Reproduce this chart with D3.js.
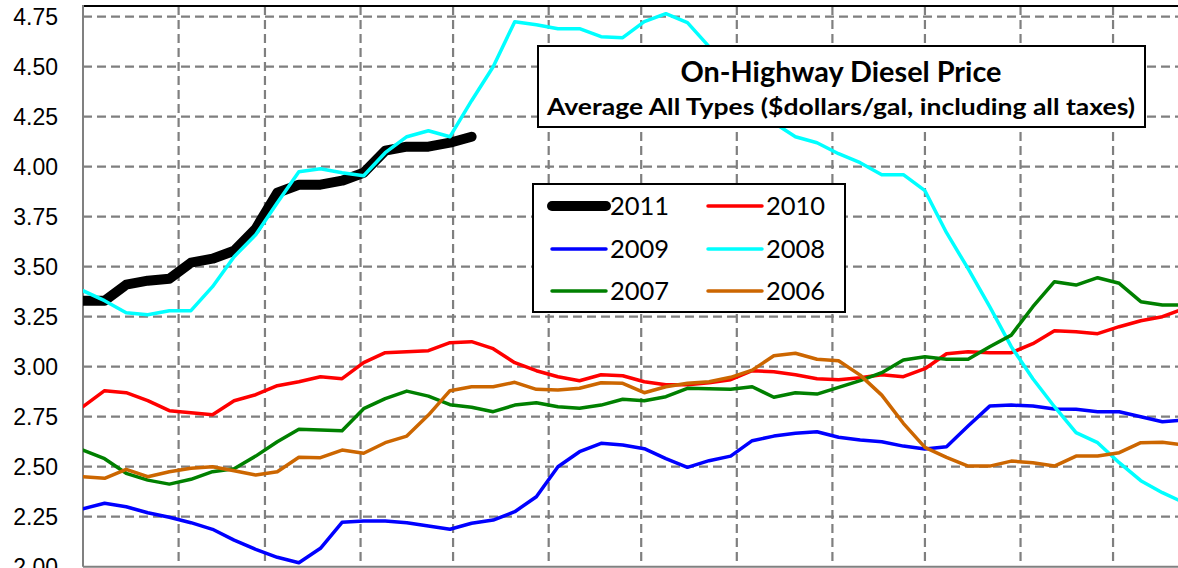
<!DOCTYPE html>
<html>
<head>
<meta charset="utf-8">
<title>On-Highway Diesel Price</title>
<script src="https://cdn.jsdelivr.net/npm/d3@7"></script>
<style>
  body { margin: 0; background: #fff; }
  svg { display: block; }
</style>
</head>
<body>
<script>
// weekly prices, $ per gallon (one value per week, from the first week of January)
var years = ["2011", "2010", "2009", "2008", "2007", "2006"];
var p2011 = [3.33, 3.33, 3.41, 3.43, 3.44, 3.52, 3.54, 3.58, 3.69, 3.87, 3.91, 3.91, 3.93, 3.97, 4.08, 4.10, 4.10, 4.12, 4.15];
var p2010 = [2.80, 2.88, 2.87, 2.83, 2.78, 2.77, 2.76, 2.83, 2.86, 2.905, 2.925, 2.95, 2.94, 3.02, 3.07, 3.075, 3.08, 3.12, 3.125, 3.09, 3.02, 2.98, 2.95, 2.93, 2.96, 2.955, 2.925, 2.91, 2.91, 2.92, 2.935, 2.98, 2.975, 2.96, 2.94, 2.935, 2.945, 2.96, 2.95, 2.99, 3.065, 3.075, 3.07, 3.07, 3.115, 3.18, 3.175, 3.165, 3.20, 3.23, 3.25, 3.29];
var p2009 = [2.29, 2.317, 2.30, 2.27, 2.247, 2.22, 2.187, 2.133, 2.087, 2.047, 2.02, 2.092, 2.222, 2.228, 2.228, 2.22, 2.203, 2.187, 2.217, 2.233, 2.275, 2.35, 2.50, 2.575, 2.617, 2.608, 2.59, 2.54, 2.497, 2.53, 2.553, 2.63, 2.653, 2.667, 2.675, 2.647, 2.633, 2.625, 2.603, 2.588, 2.60, 2.703, 2.803, 2.808, 2.803, 2.788, 2.787, 2.775, 2.775, 2.75, 2.725, 2.733];
var p2008 = [3.38, 3.33, 3.27, 3.26, 3.28, 3.28, 3.40, 3.55, 3.66, 3.82, 3.975, 3.99, 3.97, 3.955, 4.07, 4.15, 4.18, 4.15, 4.33, 4.50, 4.725, 4.71, 4.69, 4.69, 4.65, 4.645, 4.725, 4.765, 4.72, 4.60, 4.47, 4.33, 4.22, 4.15, 4.12, 4.065, 4.02, 3.96, 3.96, 3.88, 3.67, 3.49, 3.30, 3.10, 2.94, 2.80, 2.67, 2.62, 2.52, 2.43, 2.37, 2.32];
var p2007 = [2.583, 2.54, 2.467, 2.433, 2.413, 2.437, 2.475, 2.49, 2.553, 2.625, 2.687, 2.683, 2.68, 2.79, 2.84, 2.878, 2.853, 2.81, 2.797, 2.775, 2.808, 2.82, 2.80, 2.792, 2.808, 2.837, 2.83, 2.85, 2.892, 2.89, 2.887, 2.90, 2.847, 2.87, 2.863, 2.897, 2.93, 2.97, 3.033, 3.05, 3.037, 3.037, 3.10, 3.158, 3.30, 3.425, 3.408, 3.445, 3.417, 3.325, 3.308, 3.308];
var p2006 = [2.45, 2.442, 2.487, 2.45, 2.475, 2.492, 2.50, 2.48, 2.458, 2.475, 2.547, 2.545, 2.583, 2.567, 2.62, 2.653, 2.758, 2.88, 2.90, 2.90, 2.922, 2.887, 2.883, 2.892, 2.92, 2.917, 2.87, 2.90, 2.917, 2.925, 2.947, 2.983, 3.055, 3.067, 3.037, 3.03, 2.958, 2.858, 2.717, 2.597, 2.547, 2.503, 2.503, 2.528, 2.52, 2.503, 2.553, 2.553, 2.57, 2.62, 2.622, 2.608];

var yTicks = [2.00, 2.25, 2.50, 2.75, 3.00, 3.25, 3.50, 3.75, 4.00, 4.25, 4.50, 4.75];
var monthStarts = [31, 59, 90, 120, 151, 181, 212, 243, 273, 304, 334]; // day of year

var series = [
    { name: "2011", values: p2011, color: "#000000", width: 10 },
    { name: "2010", values: p2010, color: "#ff0000", width: 3.5 },
    { name: "2009", values: p2009, color: "#0000ff", width: 3.5 },
    { name: "2008", values: p2008, color: "#00ffff", width: 3.5 },
    { name: "2007", values: p2007, color: "#008000", width: 3.5 },
    { name: "2006", values: p2006, color: "#cc6600", width: 3.5 }
];

var W = 1178, H = 568;
var plotLeft = 83, plotTop = 6, plotBottom = 566.7;

var svg = d3.select("body").append("svg")
    .attr("width", W)
    .attr("height", H);

var x = d3.scaleLinear().domain([0, 365]).range([plotLeft, plotLeft + 365 * 3.084]);
var y = d3.scaleLinear().domain([2, 4.75]).range([plotBottom, 16.7]);

svg.append("defs").append("clipPath").attr("id", "plot")
    .append("rect").attr("x", plotLeft).attr("y", plotTop)
    .attr("width", W - plotLeft).attr("height", plotBottom - plotTop);

// grid
var grid = svg.append("g");
grid.selectAll(".hg").data(yTicks.slice(1)).enter().append("line")
    .attr("x1", plotLeft).attr("x2", W)
    .attr("y1", function(d) { return y(d); })
    .attr("y2", function(d) { return y(d); });
grid.selectAll(".vg").data(monthStarts).enter().append("line")
    .attr("y1", plotTop).attr("y2", plotBottom)
    .attr("x1", function(d) { return x(d); })
    .attr("x2", function(d) { return x(d); });
grid.selectAll("line")
    .attr("stroke", "#7f7f7f")
    .attr("stroke-width", 2.2)
    .attr("stroke-dasharray", "9,5");

// plot border (top) and axes
svg.append("line").attr("x1", plotLeft).attr("x2", W).attr("y1", plotTop).attr("y2", plotTop)
    .attr("stroke", "#000").attr("stroke-width", 2);

var yAxis = svg.append("g")
    .attr("transform", "translate(" + plotLeft + ",0)")
    .call(d3.axisLeft(y).tickValues(yTicks).tickFormat(d3.format(".2f")).tickSize(0).tickPadding(25));
yAxis.select(".domain").remove();
yAxis.selectAll("text")
    .attr("font-family", "'Liberation Sans', Arial, sans-serif")
    .attr("font-size", 23)
    .attr("fill", "#000")
    .attr("dy", "0.36em");

svg.append("line").attr("x1", plotLeft).attr("x2", plotLeft).attr("y1", plotTop - 1).attr("y2", plotBottom)
    .attr("stroke", "#808080").attr("stroke-width", 2);
svg.append("line").attr("x1", plotLeft).attr("x2", W).attr("y1", plotBottom).attr("y2", plotBottom)
    .attr("stroke", "#808080").attr("stroke-width", 2);

// lines
var line = d3.line()
    .x(function(d, i) { return x(i * 7); })
    .y(function(d) { return y(d); });

var lines = svg.append("g").attr("clip-path", "url(#plot)");
lines.selectAll("path").data(series).enter().append("path")
    .attr("d", function(d) { return line(d.values); })
    .attr("fill", "none")
    .attr("stroke", function(d) { return d.color; })
    .attr("stroke-width", function(d) { return d.width; })
    .attr("stroke-linejoin", "round")
    .attr("stroke-linecap", "round");

// title box
svg.append("rect")
    .attr("x", 538).attr("y", 46).attr("width", 607).attr("height", 81)
    .attr("fill", "#fff").attr("stroke", "#000").attr("stroke-width", 2);

svg.append("text")
    .attr("x", 841).attr("y", 82)
    .attr("text-anchor", "middle")
    .attr("font-family", "Lato, 'Open Sans', sans-serif")
    .attr("font-weight", "bold")
    .attr("font-size", 28)
    .attr("textLength", 321)
    .attr("lengthAdjust", "spacingAndGlyphs")
    .text("On-Highway Diesel Price");

svg.append("text")
    .attr("x", 841).attr("y", 115)
    .attr("text-anchor", "middle")
    .attr("font-family", "Lato, 'Open Sans', sans-serif")
    .attr("font-weight", "bold")
    .attr("font-size", 22.5)
    .attr("textLength", 588)
    .attr("lengthAdjust", "spacingAndGlyphs")
    .text("Average All Types ($dollars/gal, including all taxes)");

// legend
svg.append("rect")
    .attr("x", 533).attr("y", 184).attr("width", 312).attr("height", 128)
    .attr("fill", "#fff").attr("stroke", "#000").attr("stroke-width", 2);

var legendRows = [206, 249, 291];
var legendCols = [{ x1: 552, x2: 606, tx: 610 }, { x1: 708, x2: 762, tx: 766 }];

var items = svg.selectAll(".leg").data(series).enter().append("g")
    .attr("transform", function(d, i) {
        return "translate(0," + legendRows[Math.floor(i / 2)] + ")";
    });
items.append("line")
    .attr("x1", function(d, i) { return legendCols[i % 2].x1; })
    .attr("x2", function(d, i) { return legendCols[i % 2].x2; })
    .attr("stroke", function(d) { return d.color; })
    .attr("stroke-width", function(d) { return d.width; })
    .attr("stroke-linecap", "round");
items.append("text")
    .attr("x", function(d, i) { return legendCols[i % 2].tx; })
    .attr("dy", "0.36em")
    .attr("font-family", "Lato, 'Open Sans', sans-serif")
    .attr("font-size", 25.5)
    .text(function(d) { return d.name; });
</script>
</body>
</html>
